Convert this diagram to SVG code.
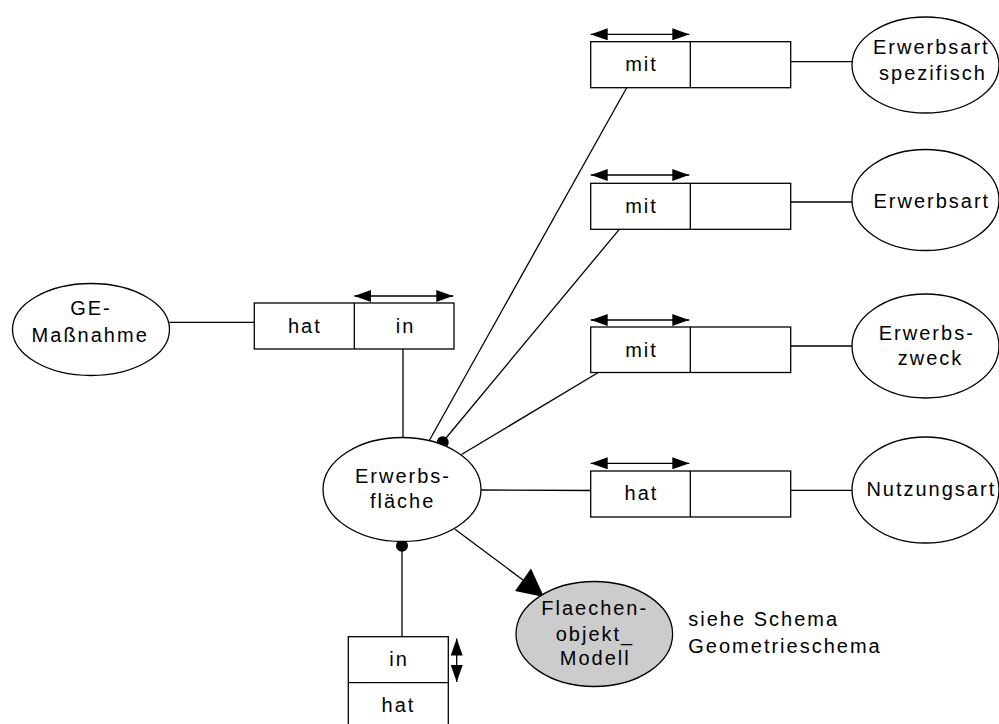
<svg xmlns="http://www.w3.org/2000/svg" width="999" height="724" viewBox="0 0 999 724">
<style>
  .shape { fill: #ffffff; stroke: #000000; stroke-width: 1.3; }
  .grey { fill: #cccccc; stroke: #000000; stroke-width: 1.3; }
  .con { fill: none; stroke: #000000; stroke-width: 1.3; }
  .dbl { fill: none; stroke: #000000; stroke-width: 1.3; marker-start: url(#ah); marker-end: url(#ah); }
  .dot { fill: #000000; }
  text { font-family: "Liberation Sans", Arial, sans-serif; font-size: 20px; letter-spacing: 2px; fill: #000000; }
  .c { text-anchor: middle; }
</style>
<defs>
  <marker id="ah" viewBox="0 0 17 12" refX="17" refY="6" markerWidth="17" markerHeight="12" markerUnits="userSpaceOnUse" orient="auto-start-reverse">
    <path d="M0,0 L17,6 L0,12 z" fill="#000000"/>
  </marker>
</defs>

<g id="connectors">
  <line class="con" x1="169.3" y1="322.3" x2="254.3" y2="322.3"/>
  <line class="con" x1="403" y1="349" x2="403" y2="437.5"/>
  <line class="con" x1="429.3" y1="440.5" x2="626.7" y2="87.7"/>
  <line class="con" x1="442.7" y1="442" x2="619.3" y2="229.3"/>
  <line class="con" x1="461.5" y1="454.5" x2="598.3" y2="372.5"/>
  <line class="con" x1="481" y1="490" x2="590.7" y2="490.5"/>
  <line class="con" x1="455" y1="529.3" x2="523" y2="580"/>
  <polygon points="515,591 531,568.5 544,597" fill="#000000"/>
  <line class="con" x1="402" y1="546" x2="402" y2="636.7"/>
  <circle class="dot" cx="442.7" cy="442.3" r="6"/>
  <circle class="dot" cx="402" cy="545.7" r="6"/>
  <line class="con" x1="790.7" y1="61.7" x2="852.3" y2="61.7"/>
  <line class="con" x1="790.7" y1="202" x2="852" y2="202"/>
  <line class="con" x1="790.7" y1="346" x2="852" y2="346"/>
  <line class="con" x1="790.7" y1="490.3" x2="852" y2="490.3"/>
  <line class="dbl" x1="354.3" y1="296" x2="453.3" y2="296"/>
  <line class="dbl" x1="590.7" y1="34.3" x2="689.3" y2="34.3"/>
  <line class="dbl" x1="590.7" y1="175" x2="689.3" y2="175"/>
  <line class="dbl" x1="590.7" y1="320" x2="689.3" y2="320"/>
  <line class="dbl" x1="590.7" y1="463.3" x2="689.3" y2="463.3"/>
  <line class="dbl" x1="456.7" y1="638.5" x2="456.7" y2="682"/>
</g>

<g id="ge-massnahme">
  <ellipse class="shape" cx="91" cy="329.5" rx="78.5" ry="46"/>
  <text class="c" x="91" y="315">GE-</text>
  <text class="c" x="90.2" y="341.7">Maßnahme</text>
</g>

<g id="rel-hat-in">
  <rect class="shape" x="254.3" y="303" width="199.7" height="46"/>
  <line class="con" x1="354.3" y1="303" x2="354.3" y2="349"/>
  <text class="c" x="304.8" y="333.3">hat</text>
  <text class="c" x="405.5" y="333.3">in</text>
</g>

<g id="erwerbsflaeche">
  <ellipse class="shape" cx="402" cy="489.5" rx="79" ry="52"/>
  <text class="c" x="403" y="483.3">Erwerbs-</text>
  <text class="c" x="402.7" y="508.3">fläche</text>
</g>

<g id="rel-mit-1">
  <rect class="shape" x="590.7" y="41.7" width="200" height="46"/>
  <line class="con" x1="690.3" y1="41.7" x2="690.3" y2="87.7"/>
  <text class="c" x="641.5" y="71">mit</text>
</g>

<g id="rel-mit-2">
  <rect class="shape" x="590.7" y="183.3" width="200" height="46"/>
  <line class="con" x1="690.3" y1="183.3" x2="690.3" y2="229.3"/>
  <text class="c" x="641.5" y="212.6">mit</text>
</g>

<g id="rel-mit-3">
  <rect class="shape" x="590.7" y="327" width="200" height="45.5"/>
  <line class="con" x1="690.3" y1="327" x2="690.3" y2="372.5"/>
  <text class="c" x="641.5" y="357">mit</text>
</g>

<g id="rel-hat-4">
  <rect class="shape" x="590.7" y="471" width="200" height="46"/>
  <line class="con" x1="690.3" y1="471" x2="690.3" y2="517"/>
  <text class="c" x="641.5" y="500.3">hat</text>
</g>

<g id="erwerbsart-spezifisch">
  <ellipse class="shape" cx="925.5" cy="65" rx="73.5" ry="48"/>
  <text class="c" x="931.3" y="54">Erwerbsart</text>
  <text class="c" x="933" y="80">spezifisch</text>
</g>

<g id="erwerbsart">
  <ellipse class="shape" cx="925.5" cy="200" rx="73.5" ry="50.5"/>
  <text class="c" x="931.8" y="208.3">Erwerbsart</text>
</g>

<g id="erwerbszweck">
  <ellipse class="shape" cx="925.5" cy="346" rx="73.5" ry="52"/>
  <text class="c" x="926.8" y="340">Erwerbs-</text>
  <text class="c" x="930.5" y="365">zweck</text>
</g>

<g id="nutzungsart">
  <ellipse class="shape" cx="925.5" cy="490" rx="73.5" ry="53"/>
  <text class="c" x="931.3" y="495.5">Nutzungsart</text>
</g>

<g id="flaechenobjekt-modell">
  <ellipse class="grey" cx="594.3" cy="634" rx="78.3" ry="52.5"/>
  <text class="c" x="594.7" y="615">Flaechen-</text>
  <text class="c" x="595" y="640.5">objekt_</text>
  <text class="c" x="595.2" y="665">Modell</text>
</g>

<g id="note">
  <text x="688.3" y="626">siehe Schema</text>
  <text x="688.3" y="652.7">Geometrieschema</text>
</g>

<g id="rel-in-hat">
  <rect class="shape" x="348.3" y="636.7" width="100" height="92"/>
  <line class="con" x1="348.3" y1="682.7" x2="448.3" y2="682.7"/>
  <text class="c" x="399" y="666">in</text>
  <text class="c" x="398.5" y="711.7">hat</text>
</g>
</svg>
